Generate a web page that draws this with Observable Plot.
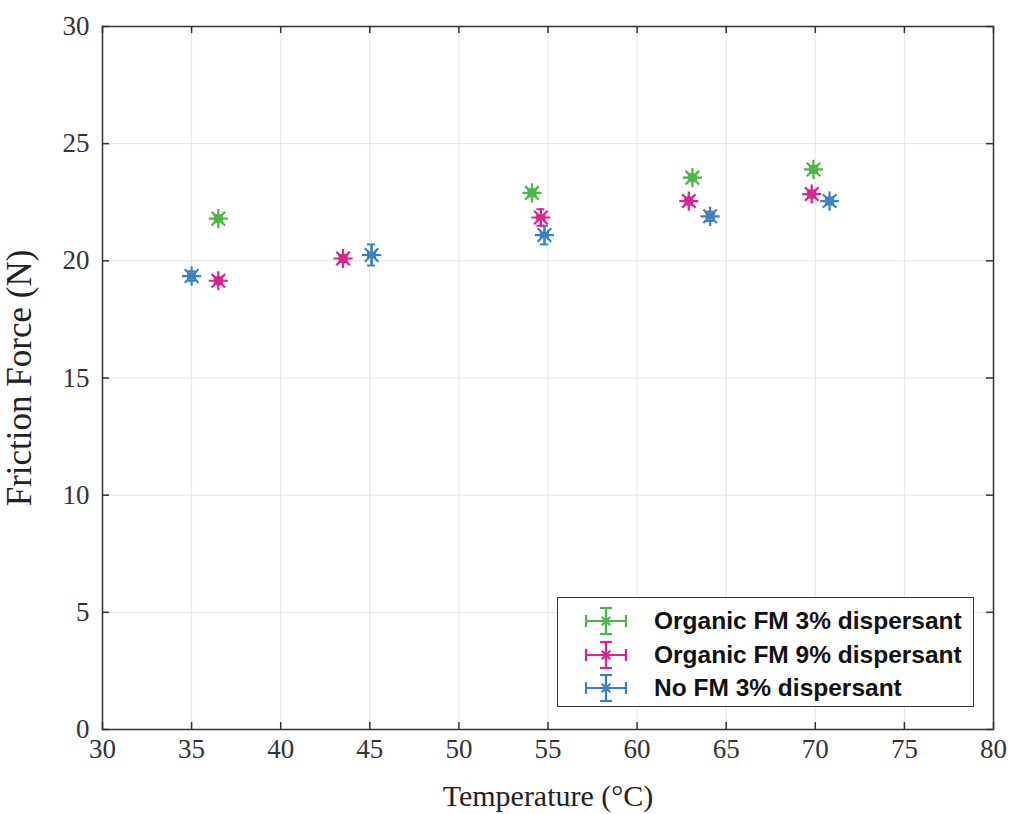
<!DOCTYPE html>
<html>
<head>
<meta charset="utf-8">
<script src="https://cdn.jsdelivr.net/npm/d3@7"></script>
<script src="https://cdn.jsdelivr.net/npm/@observablehq/plot@0.6"></script>
<style>
  html, body { margin: 0; padding: 0; background: #fff; }
  #wrap { position: relative; width: 1011px; height: 814px; }
  #legend {
    position: absolute; left: 557px; top: 597px; width: 417px; height: 110px;
    border: 1.5px solid #333; background: #fff; box-sizing: border-box;
    font-family: "Liberation Sans", Arial, sans-serif; font-weight: bold; font-size: 24.5px; color: #111;
  }
  .row { position: absolute; left: 0; height: 34px; display: flex; align-items: center; white-space: nowrap; }
  .row svg { margin-left: 26px; margin-right: 26px; }
  svg.plotchart g[aria-label="x-axis tick label"] text, svg.plotchart g[aria-label="y-axis tick label"] text { font-size: 27px; }
  svg.plotchart g[aria-label="x-axis label"] text { font-size: 30px; }
  svg.plotchart g[aria-label="y-axis label"] text { font-size: 35px; }
</style>
</head>
<body>
<div id="wrap"></div>
<script>
// ---- data ----
const seriesNames = ["Organic FM 3% dispersant", "Organic FM 9% dispersant", "No FM 3% dispersant"];
const seriesColors = ["#4cb64a", "#d8258f", "#3b80c0"];

const greenTemp  = [36.5, 54.1, 63.1, 69.9];
const greenForce = [21.8, 22.9, 23.55, 23.9];
const greenErr   = [0.15, 0.15, 0.15, 0.15];

const magentaTemp  = [36.5, 43.5, 54.6, 62.9, 69.8];
const magentaForce = [19.15, 20.1, 21.85, 22.55, 22.85];
const magentaErr   = [0.15, 0.15, 0.35, 0.15, 0.15];

const blueTemp  = [35.0, 45.1, 54.8, 64.1, 70.8];
const blueForce = [19.35, 20.25, 21.1, 21.9, 22.55];
const blueErr   = [0.2, 0.45, 0.4, 0.2, 0.15];

const tempErr = 0.2;

const xTicks = [30, 35, 40, 45, 50, 55, 60, 65, 70, 75, 80];
const yTicks = [0, 5, 10, 15, 20, 25, 30];

// ---- build table ----
function rows(name, temps, forces, errs) {
  return temps.map((t, i) => ({series: name, t, f: forces[i], e: errs[i]}));
}
const data = [
  ...rows(seriesNames[0], greenTemp, greenForce, greenErr),
  ...rows(seriesNames[1], magentaTemp, magentaForce, magentaErr),
  ...rows(seriesNames[2], blueTemp, blueForce, blueErr)
];

const asterisk8 = {
  draw(ctx, size) {
    const r = Math.sqrt(size) * 0.9;
    const d = r * Math.SQRT1_2;
    ctx.moveTo(-r, 0); ctx.lineTo(r, 0);
    ctx.moveTo(0, -r); ctx.lineTo(0, r);
    ctx.moveTo(-d, -d); ctx.lineTo(d, d);
    ctx.moveTo(-d, d); ctx.lineTo(d, -d);
  }
};

const W = 1011, H = 814;
const mL = 102, mR = 18, mT = 26, mB = 85;
const xPerPx = 50 / (W - mL - mR);
const yPerPx = 30 / (H - mT - mB);
const tickLen = 7;
const capHalfX = 4 * xPerPx;
const capHalfY = 4 * yPerPx;

const color = {domain: seriesNames, range: seriesColors};

const chart = Plot.plot({
  width: W, height: H,
  className: "plotchart",
  marginLeft: mL, marginRight: mR, marginTop: mT, marginBottom: mB,
  x: {domain: [30, 80], ticks: xTicks},
  y: {domain: [0, 30], ticks: yTicks},
  color,
  style: {fontFamily: "'Liberation Serif', 'DejaVu Serif', serif", background: "#fff"},
  marks: [
    Plot.ruleX(xTicks, {x: d => d, stroke: "#e4e4e4", strokeWidth: 1}),
    Plot.ruleY(yTicks, {y: d => d, stroke: "#e4e4e4", strokeWidth: 1}),
    // inward ticks
    Plot.ruleX(xTicks, {x: d => d, y1: 0, y2: tickLen * yPerPx, stroke: "#333", strokeWidth: 1.5}),
    Plot.ruleX(xTicks, {x: d => d, y1: 30, y2: 30 - tickLen * yPerPx, stroke: "#333", strokeWidth: 1.5}),
    Plot.ruleY(yTicks, {y: d => d, x1: 30, x2: 30 + tickLen * xPerPx, stroke: "#333", strokeWidth: 1.5}),
    Plot.ruleY(yTicks, {y: d => d, x1: 80, x2: 80 - tickLen * xPerPx, stroke: "#333", strokeWidth: 1.5}),
    Plot.frame({stroke: "#333", strokeWidth: 1.5}),
    Plot.axisX({ticks: xTicks, tickSize: 0, tickPadding: 9, fill: "#333",
      label: "Temperature (°C)", labelAnchor: "center", labelArrow: "none", labelOffset: 76}),
    Plot.axisY({ticks: yTicks, tickSize: 0, tickPadding: 13, fill: "#333",
      label: "Friction Force (N)", labelAnchor: "center", labelArrow: "none", labelOffset: 96}),
    // vertical error bars
    Plot.ruleX(data, {x: "t", y1: d => d.f - d.e, y2: d => d.f + d.e, stroke: "series", strokeWidth: 2}),
    Plot.ruleY(data, {y: d => d.f - d.e, x1: d => d.t - capHalfX, x2: d => d.t + capHalfX, stroke: "series", strokeWidth: 2}),
    Plot.ruleY(data, {y: d => d.f + d.e, x1: d => d.t - capHalfX, x2: d => d.t + capHalfX, stroke: "series", strokeWidth: 2}),
    // horizontal error bars
    Plot.ruleY(data, {y: "f", x1: d => d.t - tempErr, x2: d => d.t + tempErr, stroke: "series", strokeWidth: 2}),
    Plot.ruleX(data, {x: d => d.t - tempErr, y1: d => d.f - capHalfY, y2: d => d.f + capHalfY, stroke: "series", strokeWidth: 2}),
    Plot.ruleX(data, {x: d => d.t + tempErr, y1: d => d.f - capHalfY, y2: d => d.f + capHalfY, stroke: "series", strokeWidth: 2}),
    // markers
    Plot.dot(data, {x: "t", y: "f", stroke: "series", symbol: () => asterisk8, r: 6, strokeWidth: 2.2})
  ]
});

d3.select(chart).selectAll("g[aria-label='x-axis label'] text, g[aria-label='y-axis label'] text")
  .attr("fill", "#222");

const wrap = document.getElementById("wrap");
wrap.appendChild(chart);

// legend
const legend = document.createElement("div");
legend.id = "legend";
seriesNames.forEach((name, i) => {
  const c = seriesColors[i];
  const row = document.createElement("div");
  row.className = "row";
  row.style.top = (6 + i * 33.5) + "px";
  row.innerHTML = `<svg width="44" height="30" viewBox="-22 -15 44 30">
    <g stroke="${c}" stroke-width="2.2" fill="none">
      <line x1="-20" y1="0" x2="20" y2="0"/>
      <line x1="-20" y1="-6" x2="-20" y2="6"/>
      <line x1="20" y1="-6" x2="20" y2="6"/>
      <line x1="0" y1="-13" x2="0" y2="13"/>
      <line x1="-6" y1="-13" x2="6" y2="-13"/>
      <line x1="-6" y1="13" x2="6" y2="13"/>
      <line x1="-6" y1="0" x2="6" y2="0"/>
      <line x1="0" y1="-6" x2="0" y2="6"/>
      <line x1="-4.2" y1="-4.2" x2="4.2" y2="4.2"/>
      <line x1="-4.2" y1="4.2" x2="4.2" y2="-4.2"/>
    </g></svg><span>${name}</span>`;
  legend.appendChild(row);
});
wrap.appendChild(legend);
</script>
</body>
</html>
